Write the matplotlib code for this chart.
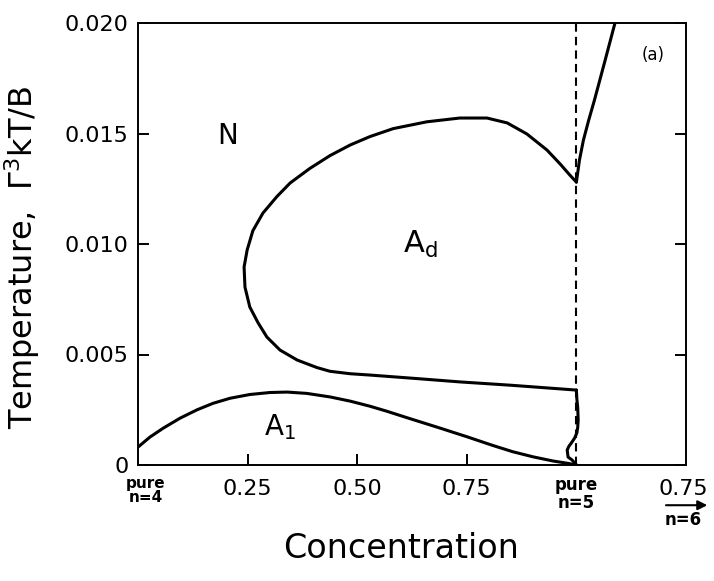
import matplotlib
matplotlib.use("Agg")
import matplotlib.pyplot as plt

# phase boundary A_d (closed-ish loop)
ad_x = [1.0, 0.85, 0.734, 0.63, 0.529, 0.484, 0.438, 0.408, 0.363, 0.324, 0.294,
        0.274, 0.255, 0.244, 0.242, 0.249, 0.262, 0.285, 0.317, 0.347, 0.392,
        0.438, 0.484, 0.529, 0.582, 0.659, 0.734, 0.796, 0.842, 0.887, 0.933,
        0.963, 0.985, 1.0]
ad_y = [0.00339, 0.00361, 0.00376, 0.00392, 0.00407, 0.00413, 0.00424, 0.00441,
        0.00475, 0.0052, 0.00579, 0.00643, 0.00715, 0.00805, 0.00896, 0.00973,
        0.01060, 0.01140, 0.01215, 0.01276, 0.01342, 0.01400, 0.01448, 0.01486,
        0.01522, 0.01553, 0.0157, 0.0157, 0.01548, 0.01498, 0.01425, 0.01362,
        0.01312, 0.0128]

# N boundary right of pure n=5
nr_x = [1.0, 1.007, 1.016, 1.028, 1.041, 1.064, 1.088]
nr_y = [0.0128, 0.0138, 0.0147, 0.0156, 0.0165, 0.0182, 0.020]

# A1 boundary
a1_x = [0.0, 0.027, 0.057, 0.096, 0.135, 0.171, 0.210, 0.255, 0.301, 0.340,
        0.385, 0.438, 0.484, 0.529, 0.568, 0.620, 0.689, 0.750, 0.810, 0.855,
        0.901, 0.947, 0.979, 1.0]
a1_y = [0.00081, 0.00126, 0.00166, 0.00212, 0.00250, 0.00279, 0.00302, 0.00319,
        0.00328, 0.00330, 0.00324, 0.00308, 0.00289, 0.00266, 0.00243, 0.00210,
        0.00167, 0.00128, 0.00088, 0.00060, 0.00037, 0.00018, 0.00008, 0.0]

# wiggle near pure n=5
w_x = [1.0, 1.001, 1.003, 1.004, 1.003, 1.001, 0.996, 0.990, 0.983, 0.979,
       0.981, 0.990, 1.0]
w_y = [0.00339, 0.00300, 0.00260, 0.00204, 0.00170, 0.00145, 0.00122, 0.00104,
       0.00085, 0.00068, 0.00036, 0.00023, 0.0]

xticks = [0.25, 0.50, 0.75]
xticklabels = ["0.25", "0.50", "0.75"]
yticks = [0, 0.005, 0.010, 0.015, 0.020]
yticklabels = ["0", "0.005", "0.010", "0.015", "0.020"]

fig = plt.figure(figsize=(7.14, 5.81), dpi=100)
ax = fig.add_axes([138 / 714, 1 - 465 / 581, 548 / 714, 442 / 581])

lw = 2.2
for xs, ys in [(ad_x, ad_y), (nr_x, nr_y), (a1_x, a1_y), (w_x, w_y)]:
    ax.plot(xs, ys, color="black", lw=lw, solid_capstyle="round", solid_joinstyle="round")
ax.plot([1.0, 1.0], [0, 0.020], color="black", lw=1.5, linestyle=(0, (4, 2.5)))

ax.set_xlim(0, 1.25)
ax.set_ylim(0, 0.020)
ax.set_xticks(xticks)
ax.set_xticklabels(xticklabels)
ax.set_yticks(yticks)
ax.set_yticklabels(yticklabels)
ax.tick_params(axis="both", direction="in", length=8, width=1.4, labelsize=16)
ax.tick_params(axis="x", pad=10)
ax.tick_params(axis="y", pad=7, right=True)
for s in ax.spines.values():
    s.set_linewidth(1.4)

# region labels
ax.text(0.205, 0.0149, "N", fontsize=20, ha="center", va="center")
ax.text(0.643, 0.0100, "A$_\\mathregular{d}$", fontsize=22, ha="center", va="center")
ax.text(0.324, 0.0017, "A$_\\mathregular{1}$", fontsize=20, ha="center", va="center")
ax.text(1.175, 0.01855, "(a)", fontsize=12, ha="center", va="center")

# special x labels
tr = ax.get_xaxis_transform()
ax.text(0.018, -0.041, "pure", fontsize=11, fontweight="bold", ha="center", va="center", transform=tr)
ax.text(0.018, -0.074, "n=4", fontsize=11, fontweight="bold", ha="center", va="center", transform=tr)
ax.text(1.0, -0.045, "pure", fontsize=12, fontweight="bold", ha="center", va="center", transform=tr)
ax.text(1.0, -0.087, "n=5", fontsize=12, fontweight="bold", ha="center", va="center", transform=tr)
ax.text(1.245, -0.054, "0.75", fontsize=16, ha="center", va="center", transform=tr)
ax.annotate("", xy=(1.305, -0.091), xytext=(1.198, -0.091), xycoords=tr, textcoords=tr,
            arrowprops=dict(arrowstyle="-|>", color="black", lw=1.5, mutation_scale=14),
            annotation_clip=False)
ax.text(1.243, -0.124, "n=6", fontsize=12, fontweight="bold", ha="center", va="center", transform=tr)

fig.text(22 / 714, 1 - 257 / 581, "Temperature,  Γ$^\\mathregular{3}$kT/B", rotation=90,
         fontsize=23, ha="center", va="center")
fig.text(401 / 714, 1 - 548 / 581, "Concentration", fontsize=24, ha="center", va="center")

fig.savefig("out.png", dpi=100)
